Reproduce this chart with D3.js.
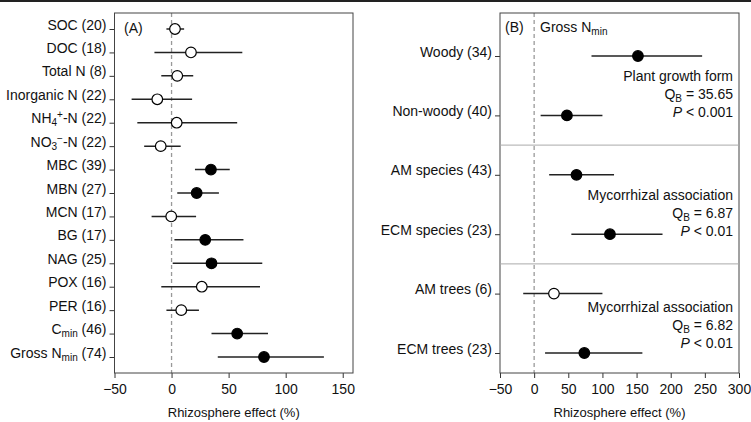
<!DOCTYPE html>
<html>
<head>
<meta charset="utf-8">
<script src="https://cdn.jsdelivr.net/npm/d3@7"></script>
<style>
  body { margin: 0; background: #fff; }
  svg { display: block; font-family: "Liberation Sans", Arial, sans-serif; }
</style>
</head>
<body>
<script>
// panel A: soil properties
var catsA = ['SOC (20)', 'DOC (18)', 'Total N (8)', 'Inorganic N (22)', 'NH_{4}^{+}-N (22)',
  'NO_{3}^{\u2212}-N (22)', 'MBC (39)', 'MBN (27)', 'MCN (17)', 'BG (17)', 'NAG (25)',
  'POX (16)', 'PER (16)', 'C_{min} (46)', 'Gross N_{min} (74)'];
var meanA = [3, 17, 5, -12.5, 4.5, -9.5, 34.5, 22, -0.3, 29.5, 35, 26.5, 8.5, 57.5, 81];
var lowA  = [-4.5, -15, -9, -35, -30, -24, 20.5, 5, -17.5, 2.5, 1, -9, -4.5, 35, 40.5];
var highA = [11, 62, 19, 18, 57.5, 8, 51, 41.5, 21.5, 63, 79.5, 77.5, 24, 84.5, 133.5];
var sigA  = [0, 0, 0, 0, 0, 0, 1, 1, 0, 1, 1, 0, 0, 1, 1];
var ticksA = [-50, 0, 50, 100, 150];

// panel B: gross N mineralization by group
var catsB = ['Woody (34)', 'Non-woody (40)', 'AM species (43)', 'ECM species (23)', 'AM trees (6)', 'ECM trees (23)'];
var meanB = [152, 48, 62, 111, 29, 73.5];
var lowB  = [84, 9.5, 22, 54.5, -16, 16];
var highB = [246, 100, 117, 188, 100, 158.5];
var sigB  = [1, 1, 1, 1, 0, 1];
var ticksB = [-50, 0, 50, 100, 150, 200, 250, 300];
var groupsB = [
  ['Plant growth form', 'Q_{B} = 35.65', '*P* < 0.001'],
  ['Mycorrhizal association', 'Q_{B} = 6.87', '*P* < 0.01'],
  ['Mycorrhizal association', 'Q_{B} = 6.82', '*P* < 0.01']
];
var groupOffset = [25, 25, 18];

var W = 751, H = 422;
var FS = '14px';
var svg = d3.select('body').append('svg')
  .attr('width', W).attr('height', H);

svg.append('rect').attr('x', 0).attr('y', 0).attr('width', W).attr('height', 2).attr('fill', '#222');

// writes "a_{sub}^{sup}*italic*" markup as tspans
function rich(sel, str) {
  sel.text('');
  var parts = str.split(/(_\{[^}]*\}|\^\{[^}]*\}|\*[^*]*\*)/).filter(function (p) { return p !== ''; });
  var shift = 0;
  parts.forEach(function (p) {
    var t = sel.append('tspan');
    var target = 0, txt = p;
    if (p[0] === '_') { target = 3; txt = p.slice(2, -1); t.attr('font-size', '10px'); }
    else if (p[0] === '^') { target = -5; txt = p.slice(2, -1); t.attr('font-size', '10px'); }
    else if (p[0] === '*') { txt = p.slice(1, -1); t.attr('font-style', 'italic'); }
    t.attr('dy', target - shift).text(txt);
    shift = target;
  });
}

function panel(o) {
  var g = svg.append('g');
  var x = d3.scaleLinear().domain(o.xdom).range([o.left, o.right]);
  var y = d3.scalePoint().domain(o.cats).range(o.yr);

  g.append('line')
    .attr('x1', x(0)).attr('x2', x(0)).attr('y1', o.top).attr('y2', o.bottom)
    .attr('stroke', '#999').attr('stroke-width', 1.3).attr('stroke-dasharray', '4,3');

  var yAxis = g.append('g').attr('transform', 'translate(' + o.left + ',0)')
    .call(d3.axisLeft(y).tickSize(5).tickPadding(3));
  yAxis.select('.domain').remove();
  yAxis.selectAll('.tick line').attr('stroke', '#333');
  yAxis.selectAll('.tick text')
    .attr('font-size', FS).attr('font-family', null).attr('fill', '#111')
    .each(function (d) { rich(d3.select(this), d); });

  var xAxis = g.append('g').attr('transform', 'translate(0,' + o.bottom + ')')
    .call(d3.axisBottom(x).tickValues(o.ticks).tickSize(5).tickPadding(6));
  xAxis.select('.domain').remove();
  xAxis.selectAll('.tick line').attr('stroke', '#333');
  xAxis.selectAll('.tick text').attr('font-size', FS).attr('font-family', null).attr('fill', '#111');

  g.append('rect')
    .attr('x', o.left).attr('y', o.top)
    .attr('width', o.right - o.left).attr('height', o.bottom - o.top)
    .attr('fill', 'none').attr('stroke', '#444').attr('stroke-width', 1);

  g.append('text')
    .attr('x', (o.left + o.right) / 2).attr('y', 417)
    .attr('text-anchor', 'middle').attr('font-size', '13px').attr('fill', '#111')
    .text('Rhizosphere effect (%)');

  var rows = o.cats.map(function (c, i) {
    return {c: c, m: o.mean[i], lo: o.low[i], hi: o.high[i], s: o.sig[i]};
  });
  g.selectAll('.ci').data(rows).enter().append('line')
    .attr('x1', function (d) { return x(d.lo); })
    .attr('x2', function (d) { return x(d.hi); })
    .attr('y1', function (d) { return y(d.c); })
    .attr('y2', function (d) { return y(d.c); })
    .attr('stroke', '#222').attr('stroke-width', 1.5);
  g.selectAll('.pt').data(rows).enter().append('circle')
    .attr('cx', function (d) { return x(d.m); })
    .attr('cy', function (d) { return y(d.c); })
    .attr('r', 5.3)
    .attr('fill', function (d) { return d.s ? '#000' : '#fff'; })
    .attr('stroke', '#000').attr('stroke-width', 1.2);

  return {g: g, x: x, y: y};
}

var A = panel({cats: catsA, mean: meanA, low: lowA, high: highA, sig: sigA, ticks: ticksA,
  xdom: [-50, 159], left: 114.5, right: 353, top: 13, bottom: 373, yr: [29, 357]});
A.g.append('text').attr('x', 124).attr('y', 33).attr('font-size', FS).attr('fill', '#111').text('(A)');

var B = panel({cats: catsB, mean: meanB, low: lowB, high: highB, sig: sigB, ticks: ticksB,
  xdom: [-50, 300], left: 500, right: 739, top: 13, bottom: 373, yr: [56, 353]});
B.g.append('text').attr('x', 505).attr('y', 32).attr('font-size', FS).attr('fill', '#111').text('(B)');
rich(B.g.append('text').attr('x', 540).attr('y', 32).attr('font-size', FS).attr('fill', '#111'), 'Gross N_{min}');

// group separators between pairs of rows
[1, 3].forEach(function (i) {
  var yy = (B.y(catsB[i]) + B.y(catsB[i + 1])) / 2;
  B.g.append('line').attr('x1', 500).attr('x2', 739).attr('y1', yy).attr('y2', yy)
    .attr('stroke', '#aaa').attr('stroke-width', 1);
});

groupsB.forEach(function (lines, gi) {
  var y0 = B.y(catsB[gi * 2]) + groupOffset[gi];
  lines.forEach(function (s, li) {
    var t = B.g.append('text').attr('x', 733).attr('y', y0 + li * 18)
      .attr('text-anchor', 'end').attr('font-size', FS).attr('fill', '#111');
    rich(t, s);
  });
});
</script>
</body>
</html>
